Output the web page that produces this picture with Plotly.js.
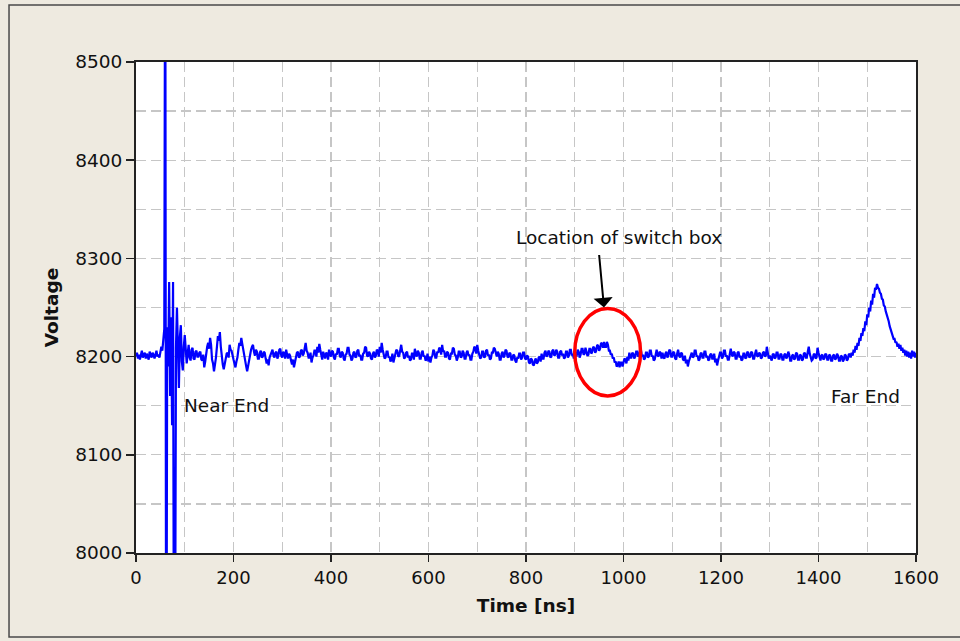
<!DOCTYPE html>
<html>
<head>
<meta charset="utf-8">
<script src="https://cdn.plot.ly/plotly-3.0.1.min.js"></script>
<style>html,body{margin:0;padding:0;background:#EEEAE0;}#chart{width:960px;height:641px;}</style>
</head>
<body>
<div id="chart"></div>
<script>
// Time axis: samples every 2 ns starting at 0 ns
var T_START = 0;
var T_STEP = 2;

// Voltage samples, one row per 100 ns (50 samples each)
var voltage = [
  // 0 - 98 ns
  8200,8204,8198,8202,8197,8203,8206,8199,8201,8204,8198,8203,8200,8197,8205,8201,8199,8204,8202,8198,8203,8206,8200,8202,8199,8204,
  8210,8206,8222,8228,8700,7700,8230,8190,8276,8160,8240,8130,8276,7800,7850,8210,8250,8190,8168,8220,8232,8195,8186,8210,
  // 100 - 198 ns
  8222,8208,8193,8203,8212,8199,8196,8207,8209,8198, 8197,8205,8206,8200,8200,8204,8205,8197,8196,8202,
  8189,8195,8204,8210,8214,8208,8219,8212,8197,8193, 8185,8191,8199,8210,8221,8216,8225,8210,8196,8192,
  8187,8194,8197,8203,8204,8199,8212,8207,8206,8200,
  // 200 - 298 ns
  8197,8193,8189,8195,8199,8207,8214,8211,8219,8213, 8206,8199,8193,8190,8185,8191,8195,8202,8207,8210,
  8212,8205,8201,8207,8205,8198,8198,8204,8206,8199, 8200,8205,8204,8198,8193,8197,8191,8199,8202,8206,
  8207,8201,8199,8204,8205,8198,8201,8207,8208,8201,
  // 300 - 398 ns
  8199,8205,8203,8198,8207,8202,8198,8203,8201,8196, 8192,8197,8189,8194,8199,8204,8205,8199,8200,8206,
  8207,8201,8203,8209,8214,8206,8204,8199,8199,8204, 8194,8199,8201,8206,8206,8200,8210,8204,8213,8207,
  8202,8197,8205,8201,8198,8204,8203,8197,8207,8202,
  // 400 - 498 ns
  8200,8206,8205,8199,8197,8203,8202,8208,8208,8201, 8199,8205,8204,8198,8196,8202,8203,8209,8209,8202,
  8201,8196,8198,8204,8205,8199,8200,8206,8207,8200, 8202,8197,8197,8203,8204,8210,8209,8201,8200,8205,
  8203,8198,8197,8203,8205,8199,8201,8207,8206,8200,
  // 500 - 598 ns
  8210,8204,8214,8207,8203,8198,8199,8205,8205,8199, 8200,8195,8197,8203,8194,8199,8202,8207,8206,8200,
  8201,8206,8212,8205,8204,8198,8199,8204,8205,8199, 8201,8196,8197,8203,8203,8197,8208,8202,8200,8206,
  8204,8198,8198,8204,8206,8200,8201,8196,8197,8203,
  // 600 - 698 ns
  8195,8200,8194,8199,8201,8207,8205,8199,8199,8205, 8204,8209,8208,8202,8212,8205,8206,8200,8200,8205,
  8204,8198,8197,8203,8203,8209,8208,8202,8201,8196, 8199,8205,8205,8199,8200,8206,8204,8198,8198,8204,
  8206,8201,8202,8197,8197,8203,8205,8210,8209,8203,
  // 700 - 798 ns
  8212,8206,8203,8198,8199,8205,8205,8199,8200,8206, 8207,8201,8202,8197,8198,8204,8204,8209,8208,8202,
  8200,8205,8203,8197,8197,8203,8205,8199,8201,8207, 8206,8200,8199,8204,8203,8197,8197,8202,8201,8196,
  8194,8199,8198,8203,8203,8197,8199,8204,8204,8198,
  // 800 - 898 ns
  8197,8201,8200,8194,8193,8198,8197,8192,8191,8196, 8198,8193,8194,8199,8200,8195,8203,8198,8198,8204,
  8206,8200,8201,8206,8205,8199,8200,8206,8207,8201, 8202,8207,8205,8199,8199,8205,8206,8201,8203,8198,
  8199,8205,8205,8199,8201,8207,8207,8201,8203,8198,
  // 900 - 998 ns
  8206,8201,8201,8207,8205,8199,8202,8208,8208,8202, 8203,8209,8206,8201,8202,8208,8208,8203,8205,8210,
  8209,8204,8206,8212,8211,8206,8208,8214,8213,8209, 8215,8210,8210,8215,8212,8206,8206,8202,8203,8198,
  8199,8194,8195,8190,8191,8195,8189,8194,8194,8190,
  // 1000 - 1098 ns
  8194,8198,8197,8193,8200,8196,8204,8199,8199,8204, 8203,8198,8200,8205,8205,8200,8201,8207,8206,8200,
  8202,8197,8198,8204,8204,8199,8200,8206,8206,8200, 8201,8196,8197,8203,8207,8201,8200,8205,8204,8198,
  8204,8199,8198,8203,8205,8199,8201,8207,8206,8200,
  // 1100 - 1198 ns
  8200,8205,8204,8198,8197,8203,8207,8201,8199,8204, 8203,8197,8196,8201,8193,8197,8190,8195,8198,8203,
  8204,8199,8200,8206,8206,8200,8201,8196,8197,8203, 8204,8199,8199,8205,8205,8199,8201,8196,8197,8202,
  8203,8198,8198,8203,8194,8198,8191,8196,8199,8204,
  // 1200 - 1298 ns
  8204,8198,8200,8206,8206,8200,8201,8197,8197,8203, 8208,8202,8200,8205,8204,8198,8198,8204,8205,8199,
  8201,8196,8197,8203,8203,8198,8199,8205,8204,8199, 8200,8205,8204,8198,8198,8203,8207,8201,8200,8204,
  8203,8198,8199,8204,8205,8200,8201,8210,8204,8198,
  // 1300 - 1398 ns
  8201,8197,8196,8202,8203,8198,8199,8204,8204,8198, 8198,8203,8202,8197,8197,8202,8203,8198,8200,8205,
  8202,8196,8196,8201,8202,8197,8198,8204,8203,8197, 8197,8202,8201,8196,8197,8203,8204,8199,8199,8205,
  8210,8203,8200,8196,8197,8202,8203,8198,8199,8209,
  // 1400 - 1498 ns
  8204,8198,8196,8201,8202,8197,8198,8203,8202,8197, 8197,8202,8201,8196,8196,8201,8202,8197,8198,8203,
  8201,8196,8196,8201,8200,8195,8197,8202,8201,8196, 8197,8202,8203,8199,8204,8201,8207,8204,8211,8207,
  8214,8211,8219,8216,8224,8221,8229,8226,8236,8232,
  // 1500 - 1598 ns
  8243,8240,8250,8246,8257,8253,8264,8260,8270,8268, 8274,8270,8269,8265,8264,8259,8258,8252,8251,8246,
  8243,8239,8236,8231,8228,8224,8223,8218,8218,8214, 8215,8210,8213,8208,8212,8206,8209,8204,8207,8201,
  8206,8200,8205,8199,8204,8198,8206,8200,8205,8199,
  // 1600 ns
  8204
];

var xTickVals = [0,200,400,600,800,1000,1200,1400,1600];
var yTickVals = [8000,8100,8200,8300,8400,8500];

var labelNear = "Near End";
var labelFar = "Far End";
var labelSwitch = "Location of switch box";

var FONT = "DejaVu Sans, Verdana, sans-serif";
var GRID = "#c6c6c6";
var GRID_DASH = "10px,5px";

var trace = {
  type: "scatter",
  mode: "lines",
  x0: T_START,
  dx: T_STEP,
  y: voltage,
  line: {color: "#0000ff", width: 2.2},
  hoverinfo: "skip"
};

var layout = {
  width: 960,
  height: 641,
  margin: {l: 136, r: 44, t: 62, b: 88, pad: 0},
  paper_bgcolor: "#EEEAE0",
  plot_bgcolor: "#ffffff",
  showlegend: false,
  font: {family: FONT, size: 18.5, color: "#111111"},
  xaxis: {
    range: [0, 1600],
    tickvals: xTickVals,
    ticktext: xTickVals.map(String),
    ticks: "outside", ticklen: 7, tickwidth: 1.5, tickcolor: "#222",
    tickfont: {family: FONT, size: 18, color: "#111"},
    showgrid: true, gridcolor: GRID, griddash: GRID_DASH, gridwidth: 1.4,
    minor: {dtick: 100, tick0: 0, showgrid: true, gridcolor: GRID, griddash: GRID_DASH, gridwidth: 1.4, ticks: ""},
    showline: true, mirror: true, linecolor: "#222", linewidth: 2,
    zeroline: false,
    title: {text: "Time [ns]", font: {family: FONT, size: 18.5, weight: "bold", color: "#111"}, standoff: 12}
  },
  yaxis: {
    range: [8000, 8500],
    tickvals: yTickVals,
    ticktext: yTickVals.map(String),
    ticks: "outside", ticklen: 8, tickwidth: 1.5, tickcolor: "#222",
    tickfont: {family: FONT, size: 18.5, color: "#111"},
    showgrid: true, gridcolor: GRID, griddash: GRID_DASH, gridwidth: 1.4,
    minor: {dtick: 50, tick0: 8000, showgrid: true, gridcolor: GRID, griddash: GRID_DASH, gridwidth: 1.4, ticks: ""},
    showline: true, mirror: true, linecolor: "#222", linewidth: 2,
    zeroline: false,
    title: {text: "Voltage", font: {family: FONT, size: 18.5, weight: "bold", color: "#111"}, standoff: 12}
  },
  shapes: [
    {type: "rect", xref: "paper", yref: "paper", x0: -0.1628, x1: 1.2, y0: -0.1711, y1: 1.1161,
     line: {color: "#4a4a4a", width: 1.5}, fillcolor: "rgba(0,0,0,0)", layer: "below"},
    {type: "circle", xref: "x", yref: "y", x0: 900, x1: 1035, y0: 8160, y1: 8249,
     line: {color: "#ff0000", width: 3.5}}
  ],
  annotations: [
    {x: 185, y: 8150, xref: "x", yref: "y", text: labelNear, showarrow: false,
     font: {family: FONT, size: 18.5, color: "#111"}},
    {x: 1497, y: 8159, xref: "x", yref: "y", text: labelFar, showarrow: false,
     font: {family: FONT, size: 18.5, color: "#111"}},
    {x: 991, y: 8321, xref: "x", yref: "y", text: labelSwitch, showarrow: false,
     font: {family: FONT, size: 18.5, color: "#111"}},
    {x: 960, y: 8250, xref: "x", yref: "y", text: "", showarrow: true,
     ax: -5, ay: -54, arrowhead: 1, arrowsize: 1.6, arrowwidth: 2, arrowcolor: "#000", standoff: 0}
  ]
};

Plotly.newPlot("chart", [trace], layout, {staticPlot: true, displayModeBar: false});
</script>
</body>
</html>
